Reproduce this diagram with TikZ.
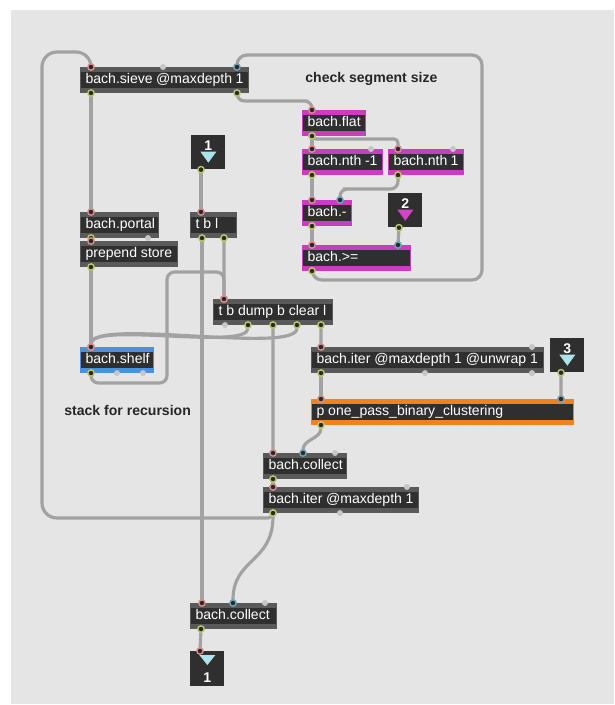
\documentclass[tikz,border=0pt]{standalone}
\usepackage{fontspec}
\setmainfont{Liberation Sans}
\usetikzlibrary{arrows.meta}

\definecolor{canvas}{HTML}{E5E5E5}
\definecolor{boxfill}{HTML}{2F2F2F}
\definecolor{boxedge}{HTML}{5A5A5A}
\definecolor{bachpink}{HTML}{C93DBE}
\definecolor{shelfblue}{HTML}{4A92DC}
\definecolor{patchorange}{HTML}{F2821E}
\definecolor{cordgray}{HTML}{A2A2A2}
\definecolor{portgray}{HTML}{C6C6C6}
\definecolor{portfill}{HTML}{2A2A2A}
\definecolor{portin}{HTML}{D88E8E}
\definecolor{portcold}{HTML}{6FA7B8}
\definecolor{portout}{HTML}{BCC66C}
\definecolor{tricyan}{HTML}{ADE3EA}
\definecolor{trimag}{HTML}{D642C8}

\begin{document}
\begin{tikzpicture}
  [x=0.02cm,y=-0.02cm,
   strips/.style={path picture={
     \fill[#1] (path picture bounding box.north west) rectangle ([yshift=-0.09cm]path picture bounding box.north east);
     \fill[#1] (path picture bounding box.south west) rectangle ([yshift=0.09cm]path picture bounding box.south east);}},
   obj/.style={fill=boxfill,draw=boxedge,line width=0.6pt,anchor=north west,
     text=white,font=\fontsize{8}{9}\selectfont,inner xsep=0.1cm,inner ysep=0pt,
     minimum height=0.5cm,text height=6pt,text depth=1.6pt,
     execute at begin node={\hbox to #1\bgroup},execute at end node={\hfil\egroup},
     strips=boxedge},
   bach/.style={obj=#1,draw=bachpink,strips=bachpink},
   numbox/.style={fill=boxfill,anchor=north west,minimum width=0.68cm,inner sep=0pt,
     text=white,font=\bfseries\fontsize{8}{9}\selectfont,text height=0.3cm,text depth=0.38cm},
   outbox/.style={numbox,text height=0.62cm,text depth=0.08cm},
   note/.style={anchor=west,inner sep=0pt,font=\bfseries\fontsize{8}{9}\selectfont,text=black!85},
   cord/.style={draw=cordgray,line width=1.8pt,shorten <=-2.2pt,shorten >=-2.2pt,
     {Circle[length=4.4pt,line width=0.8pt,color=portout,fill=portfill]}-{Circle[length=4.4pt,line width=0.8pt,color=#1,fill=portfill]}},
   cord/.default=portin]
  \useasboundingbox (0,0) rectangle (614,705);
  \fill[canvas] (11,10) rectangle (614,704);

  \node[obj=3.16cm] (sieve) at (80,67) {bach.sieve @maxdepth 1};
  \node[obj=1.36cm] (portal) at (80,212) {bach.portal};
  \node[obj=1.74cm] (prepend) at (80,241) {prepend store};
  \node[obj=1.26cm,draw=shelfblue,strips=shelfblue] (shelf) at (80,347) {bach.shelf};
  \node[numbox] (in1) at (191,135) {1};
  \node[obj=0.72cm] (tbl) at (190,212) {t b l};
  \node[obj=2.18cm] (tbd) at (213,299) {t b dump b clear l};
  \node[bach=1.06cm] (flat) at (302,110) {bach.flat};
  \node[bach=1.40cm] (ntha) at (302,149) {bach.nth -1};
  \node[bach=1.30cm] (nthb) at (388,149) {bach.nth 1};
  \node[bach=0.78cm] (minus) at (302,200) {bach.-};
  \node[numbox] (in2) at (388,193) {2};
  \node[bach=1.96cm] (geq) at (302,245) {bach.>=};
  \node[obj=4.44cm] (iteru) at (311,347) {bach.iter @maxdepth 1 @unwrap 1};
  \node[numbox] (in3) at (550,338) {3};
  \node[obj=5.04cm,draw=patchorange,strips=patchorange] (pone) at (311,399) {p one\_pass\_binary\_clustering};
  \node[obj=1.46cm] (colla) at (263,453) {bach.collect};
  \node[obj=2.90cm] (iterb) at (263,487) {bach.iter @maxdepth 1};
  \node[obj=1.52cm] (collb) at (190,603) {bach.collect};
  \node[outbox] (out1) at (190,651) {1};

  \node[note] (segnote) at (305,79) {check segment size};
  \node[note] (stacknote) at (64,410) {stack for recursion};

  \fill[tricyan] ([xshift=-0.16cm,yshift=0.36cm]in1.south) -- ([xshift=0.16cm,yshift=0.36cm]in1.south) -- ([yshift=0.14cm]in1.south) -- cycle;
  \fill[trimag] ([xshift=-0.16cm,yshift=0.36cm]in2.south) -- ([xshift=0.16cm,yshift=0.36cm]in2.south) -- ([yshift=0.14cm]in2.south) -- cycle;
  \fill[tricyan] ([xshift=-0.16cm,yshift=0.36cm]in3.south) -- ([xshift=0.16cm,yshift=0.36cm]in3.south) -- ([yshift=0.14cm]in3.south) -- cycle;
  \fill[tricyan] ([xshift=-0.16cm,yshift=-0.08cm]out1.north) -- ([xshift=0.16cm,yshift=-0.08cm]out1.north) -- ([yshift=-0.28cm]out1.north) -- cycle;

  \foreach \n/\dx in {sieve/1.66,ntha/1.38,nthb/1.30,iteru/4.42,colla/1.44,iterb/2.88,collb/1.50}
    \fill[portgray] ([xshift=\dx cm]\n.north west) circle (0.06cm);
  \foreach \n/\dx in {portal/1.36,shelf/0.74,shelf/1.26,tbd/0.24,iteru/2.28,iteru/4.42,iterb/1.54}
    \fill[portgray] ([xshift=\dx cm]\n.south west) circle (0.06cm);

  \draw[cord] ([xshift=0.2cm]iterb.south west) [rounded corners=0.1cm] |- (200,518)
    [rounded corners=0.3cm] -| (42,52) -| ([xshift=0.22cm]sieve.north west);
  \draw[cord=portcold,rounded corners=0.2cm] ([xshift=0.2cm]geq.south west) |- (482,280) -- (482,55) -| ([xshift=3.14cm]sieve.north west);
  \draw[cord,rounded corners=0.15cm] ([xshift=3.14cm]sieve.south west) |- (300,101) -| ([xshift=0.2cm]flat.north west);
  \draw[cord] ([xshift=0.2cm]flat.south west) -- ([xshift=0.2cm]ntha.north west);
  \draw[cord,rounded corners=0.08cm] ([xshift=0.2cm]flat.south west) |- (380,139) -| ([xshift=0.2cm]nthb.north west);
  \draw[cord] ([xshift=0.2cm]ntha.south west) -- ([xshift=0.2cm]minus.north west);
  \draw[cord=portcold,rounded corners=0.15cm] ([xshift=0.2cm]nthb.south west) |- (350,189) -| ([xshift=0.76cm]minus.north west);
  \draw[cord] ([xshift=0.2cm]minus.south west) -- ([xshift=0.2cm]geq.north west);
  \draw[cord=portcold] ([xshift=0.22cm]in2.south west) -- ([xshift=1.92cm]geq.north west);
  \draw[cord] ([xshift=0.22cm]sieve.south west) -- ([xshift=0.22cm]portal.north west);
  \draw[cord] ([xshift=0.22cm]portal.south west) -- ([xshift=0.22cm]prepend.north west);
  \draw[cord] ([xshift=0.22cm]prepend.south west) -- ([xshift=0.22cm]shelf.north west);
  \draw[cord] ([xshift=0.2cm]in1.south west) -- ([xshift=0.22cm]tbl.north west);
  \draw[cord] ([xshift=0.24cm]tbl.south west) -- ([xshift=0.24cm]collb.north west);
  \draw[cord] ([xshift=0.68cm]tbl.south west) -- ([xshift=0.22cm]tbd.north west);
  \draw[cord,rounded corners=0.15cm] ([xshift=0.22cm]shelf.south west) -- ++(0,10) -| (167,272) -| ([xshift=0.22cm]tbd.north west);
  \draw[cord] ([xshift=0.7cm]tbd.south west) .. controls +(0,26) and +(0,-26) .. ([xshift=0.22cm]shelf.north west);
  \draw[cord] ([xshift=1.68cm]tbd.south west) .. controls +(0,30) and +(0,-30) .. ([xshift=0.22cm]shelf.north west);
  \draw[cord] ([xshift=1.2cm]tbd.south west) -- ([xshift=0.2cm]colla.north west);
  \draw[cord] ([xshift=2.16cm]tbd.south west) -- ([xshift=0.2cm]iteru.north west);
  \draw[cord] ([xshift=0.2cm]iteru.south west) -- ([xshift=0.2cm]pone.north west);
  \draw[cord=portcold] ([xshift=0.22cm]in3.south west) -- ([xshift=5.0cm]pone.north west);
  \draw[cord=portcold] ([xshift=0.2cm]pone.south west) .. controls +(0,14) and +(0,-14) .. ([xshift=0.8cm]colla.north west);
  \draw[cord] ([xshift=0.2cm]colla.south west) -- ([xshift=0.2cm]iterb.north west);
  \draw[cord=portcold] ([xshift=0.2cm]iterb.south west) .. controls +(0,50) and +(0,-45) .. ([xshift=0.86cm]collb.north west);
  \draw[cord] ([xshift=0.22cm]collb.south west) -- ([xshift=0.2cm]out1.north west);
\end{tikzpicture}
\end{document}
